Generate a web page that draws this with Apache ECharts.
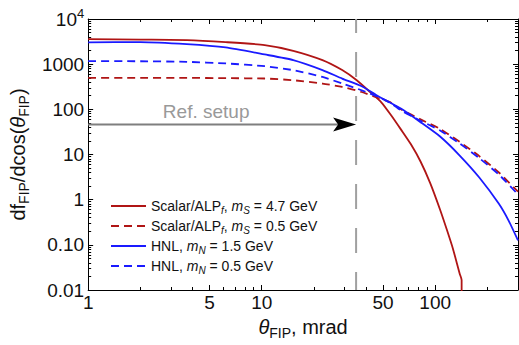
<!DOCTYPE html>
<html><head><meta charset="utf-8">
<script src="https://cdn.jsdelivr.net/npm/echarts@6/dist/echarts.min.js"></script>
<style>html,body{margin:0;padding:0;background:#fff}#c{width:519px;height:345px}</style>
</head><body><div id="c"></div>
<script>
// ---- data ----
const scalarHeavyAngle = [1, 2, 3.7, 6.2, 10.4, 15.2, 22.4, 29.1, 35.3, 42.9, 48.9, 55.7, 63.4, 72.3, 82.3, 93.7, 106.7, 117, 126.4, 138.4, 142, 142];
const scalarHeavyDist  = [3590, 3500, 3420, 3080, 2650, 1980, 1230, 740, 440, 227, 143, 74, 36, 17, 7.0, 2.3, 0.6, 0.21, 0.083, 0.023, 0.0167, 0.0001];

const scalarLightAngle = [1, 2, 3.7, 6.2, 10.4, 15.2, 22.4, 29.1, 37.7, 47, 55.7, 63.4, 82.3, 106.7, 138.4, 179.5, 232.8, 300];
const scalarLightDist  = [497, 497, 497, 490, 481, 441, 372, 313, 242, 178, 140, 100, 60, 37, 19, 9.2, 4.0, 1.5];

const hnlHeavyAngle = [1, 2, 3.7, 6.2, 10.4, 15.2, 22.4, 29.1, 37.7, 47, 63.4, 82.3, 106.7, 138.4, 179.5, 232.8, 265.3, 300];
const hnlHeavyDist  = [3040, 3080, 2780, 2350, 1640, 1230, 740, 480, 325, 195, 104, 52, 25, 9.5, 3.1, 0.81, 0.34, 0.125];

const hnlLightAngle = [1, 2, 3.7, 6.2, 10.4, 15.2, 22.4, 29.1, 37.7, 47, 55.7, 63.4, 82.3, 106.7, 138.4, 179.5, 232.8, 300];
const hnlLightDist  = [1166, 1160, 1125, 1037, 903, 736, 523, 372, 264, 188, 136, 95, 56, 34, 17.5, 8.3, 3.6, 1.3];

const seriesNames = [
  'Scalar/ALP_f, m_S = 4.7 GeV',
  'Scalar/ALP_f, m_S = 0.5 GeV',
  'HNL, m_N = 1.5 GeV',
  'HNL, m_N = 0.5 GeV'
];

const refAngle = 35;        // mrad, reference setup
const refArrowLevel = 46;   // arrow height
const refText = 'Ref. setup';

const xTickLabels = [1, 5, 10, 50, 100];
const xMinorTickValues = [2, 3, 4, 6, 7, 8, 9, 20, 30, 40, 60, 70, 80, 90, 200, 300];
const yTickValues = [0.01, 0.1, 1, 10, 100, 1000, 10000];
const yTickLabels = ['0.01', '0.10', '1', '10', '100', '1000', '10^4'];
const xTitle = 'θ_FIP, mrad';
const yTitle = 'df_FIP/dcos(θ_FIP)';

const xRange = [1, 300];
const yRange = [0.01, 10000];

// ---- helpers ----
const FONT = '"Liberation Sans", Arial, Helvetica, sans-serif';
const yMinorTickValues = [];
for (let e = -2; e < 4; e++) for (let m = 2; m <= 9; m++) yMinorTickValues.push(+(m * Math.pow(10, e)).toPrecision(3));

function pairs(xs, ys) { return xs.map((x, i) => [x, ys[i]]); }

function richName(s) {
  let out = '';
  const re = /(θ)|_([A-Za-z]+)|([^_θ]+)/g;
  let mt;
  while ((mt = re.exec(s)) !== null) {
    if (mt[1]) out += '{i|' + mt[1] + '}';
    else if (mt[2]) out += '{s|' + mt[2] + '}';
    else out += '{n|' + mt[3] + '}';
  }
  return out;
}
function legendRich(s) {
  let out = '';
  const re = /m(?=_)|_([A-Za-z]+)|[^_m]+|m/g;
  let mt;
  while ((mt = re.exec(s)) !== null) {
    if (mt[0] === 'm' && s[re.lastIndex] === '_') out += '{i|m}';
    else if (mt[1]) out += '{s|' + mt[1] + '}';
    else out += '{n|' + mt[0] + '}';
  }
  return out;
}

const AX = '#000';
function xAxisDef(pos, ticks, len, withLine, labels) {
  return {
    type: 'log', logBase: 10, min: xRange[0], max: xRange[1], position: pos,
    axisLine: { show: withLine, onZero: false, lineStyle: { color: AX, width: 1 } },
    axisTick: { show: true, inside: true, length: len, customValues: ticks, lineStyle: { color: AX, width: 1 } },
    axisLabel: labels ? {
      show: true, customValues: xTickLabels, margin: 3, color: '#111', fontSize: 19, fontFamily: FONT,
      formatter: v => String(xTickLabels.reduce((a, b) => Math.abs(Math.log10(b / v)) < Math.abs(Math.log10(a / v)) ? b : a))
    } : { show: false },
    splitLine: { show: false }
  };
}
function yAxisDef(pos, ticks, len, withLine, labels) {
  return {
    type: 'log', logBase: 10, min: yRange[0], max: yRange[1], position: pos,
    axisLine: { show: withLine, onZero: false, lineStyle: { color: AX, width: 1 } },
    axisTick: { show: true, inside: true, length: len, customValues: ticks, lineStyle: { color: AX, width: 1 } },
    axisLabel: labels ? {
      show: true, customValues: yTickValues, margin: 4, color: '#111', fontSize: 19, fontFamily: FONT,
      formatter: v => {
        const i = Math.round(Math.log10(v)) - Math.round(Math.log10(yTickValues[0]));
        const t = yTickLabels[i];
        if (t.indexOf('^') >= 0) { const p = t.split('^'); return '{b|' + p[0] + '}{sup|' + p[1] + '}'; }
        return t;
      },
      rich: {
        b: { fontSize: 19, fontFamily: FONT, color: '#111', lineHeight: 24 },
        sup: { fontSize: 13, fontFamily: FONT, color: '#111', lineHeight: 13, verticalAlign: 'top' }
      }
    } : { show: false },
    splitLine: { show: false }
  };
}

const titleRich = {
  n: { fontSize: 20, fontFamily: FONT, color: '#111', lineHeight: 26 },
  i: { fontSize: 20, fontFamily: FONT, color: '#111', lineHeight: 26, fontStyle: 'italic' },
  s: { fontSize: 14, fontFamily: FONT, color: '#111', lineHeight: 14, verticalAlign: 'bottom' }
};

const xAxes = [
  Object.assign(xAxisDef('bottom', xTickLabels, 5, true, true), {
    name: richName(xTitle), nameLocation: 'middle', nameGap: 22,
    nameTextStyle: { rich: titleRich }
  }),
  xAxisDef('bottom', xMinorTickValues, 3, false, false),
  xAxisDef('top', xTickLabels, 5, true, false),
  xAxisDef('top', xMinorTickValues, 3, false, false)
];
const yAxes = [
  Object.assign(yAxisDef('left', yTickValues, 5, true, true), {
    name: richName(yTitle), nameLocation: 'middle', nameGap: 50, nameRotate: 90,
    nameTextStyle: { rich: titleRich }
  }),
  yAxisDef('left', yMinorTickValues, 3, false, false),
  yAxisDef('right', yTickValues, 5, true, false),
  yAxisDef('right', yMinorTickValues, 3, false, false)
];

const RED = '#b01515', BLUE = '#1a1aff';
function lineSeries(name, data, color, dashed) {
  return {
    name, type: 'line', data, xAxisIndex: 0, yAxisIndex: 0,
    symbol: 'none', showSymbol: false, smooth: 0.2, clip: true,
    lineStyle: { color, width: 1.8, type: dashed ? [8, 5] : 'solid' },
    itemStyle: { color }, z: 3
  };
}

const refSeries = {
  type: 'custom', coordinateSystem: 'cartesian2d', xAxisIndex: 0, yAxisIndex: 0, z: 1, silent: true,
  data: [[refAngle, refArrowLevel]],
  renderItem: function (params, api) {
    const tip = api.coord([api.value(0), api.value(1)]);
    const start = api.coord([xRange[0], api.value(1)]);
    const top = api.coord([api.value(0), yRange[1]]);
    const bot = api.coord([api.value(0), yRange[0]]);
    return {
      type: 'group', children: [
        { type: 'line', shape: { x1: top[0], y1: top[1], x2: bot[0], y2: bot[1] },
          style: { stroke: '#a0a0a0', lineWidth: 2, lineDash: [25, 19], lineDashOffset: 11 } },
        { type: 'line', shape: { x1: start[0], y1: start[1], x2: tip[0] - 18, y2: tip[1] },
          style: { stroke: '#7f7f7f', lineWidth: 2 } },
        { type: 'polygon', shape: { points: [[tip[0], tip[1]], [tip[0] - 23, tip[1] - 7], [tip[0] - 18, tip[1]], [tip[0] - 23, tip[1] + 7]] },
          style: { fill: '#000' } },
        { type: 'text', x: start[0] + 118, y: start[1] - 13,
          style: { text: refText, fill: '#999', font: '19px ' + FONT, align: 'center', verticalAlign: 'middle' } }
      ]
    };
  }
};

const legendRichStyle = {
  n: { fontSize: 14, fontFamily: FONT, color: '#111', lineHeight: 18 },
  i: { fontSize: 14, fontFamily: FONT, color: '#111', lineHeight: 18, fontStyle: 'italic' },
  s: { fontSize: 10, fontFamily: FONT, color: '#111', lineHeight: 10, verticalAlign: 'bottom', fontStyle: 'italic' }
};

const option = {
  animation: false,
  backgroundColor: '#fff',
  grid: { left: 81, right: 1, top: 19, bottom: 55, containLabel: false },
  xAxis: xAxes,
  yAxis: yAxes,
  legend: {
    orient: 'vertical', left: 105, top: 194, itemWidth: 35, itemHeight: 14, itemGap: 4,
    data: seriesNames, selectedMode: false,
    itemStyle: { opacity: 0, borderWidth: 0 },
    formatter: name => legendRich(name),
    textStyle: { rich: legendRichStyle }
  },
  series: [
    refSeries,
    lineSeries(seriesNames[0], pairs(scalarHeavyAngle, scalarHeavyDist), RED, false),
    lineSeries(seriesNames[1], pairs(scalarLightAngle, scalarLightDist), RED, true),
    lineSeries(seriesNames[2], pairs(hnlHeavyAngle, hnlHeavyDist), BLUE, false),
    lineSeries(seriesNames[3], pairs(hnlLightAngle, hnlLightDist), BLUE, true)
  ]
};

const chart = echarts.init(document.getElementById('c'), null, { renderer: 'svg' });
chart.setOption(option);
</script>
</body></html>
